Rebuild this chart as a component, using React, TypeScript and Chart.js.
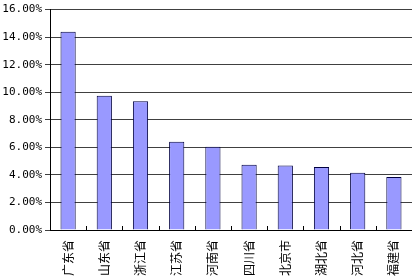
import React, { useEffect, useRef } from "react";
import { Chart, registerables } from "chart.js";

Chart.register(...registerables);

const categories = ["广东省", "山东省", "浙江省", "江苏省", "河南省", "四川省", "北京市", "湖北省", "河北省", "福建省"];
const shares = [14.4, 9.74, 9.35, 6.41, 6.05, 4.73, 4.69, 4.57, 4.16, 3.85];
const yTicks = [0, 2, 4, 6, 8, 10, 12, 14, 16];

const insideTicks = {
  id: "insideTicks",
  afterDatasetsDraw(chart: any) {
    const { ctx, chartArea, scales } = chart;
    const x = scales.x;
    const n = categories.length;
    ctx.save();
    ctx.strokeStyle = "#000";
    ctx.lineWidth = 1;
    for (let i = 1; i < n; i++) {
      const px = Math.round((x.getPixelForValue(i - 1) + x.getPixelForValue(i)) / 2) + 0.5;
      ctx.beginPath();
      ctx.moveTo(px, chartArea.bottom);
      ctx.lineTo(px, chartArea.bottom - 4);
      ctx.stroke();
    }
    ctx.restore();
  },
};

export default function App() {
  const ref = useRef<HTMLCanvasElement>(null);
  useEffect(() => {
    if (!ref.current) return;
    const chart = new Chart(ref.current, {
      type: "bar",
      data: {
        labels: categories,
        datasets: [
          {
            data: shares,
            backgroundColor: "#9999FF",
            borderColor: "#000040",
            borderWidth: 1,
            barPercentage: 0.42,
            categoryPercentage: 1,
          },
        ],
      },
      options: {
        animation: false,
        responsive: false,
        layout: { padding: { top: 0, right: 0, left: 0, bottom: 0 } },
        plugins: { legend: { display: false }, tooltip: { enabled: false } },
        scales: {
          x: {
            offset: true,
            grid: { display: false },
            border: { display: true, color: "#000", width: 1 },
            ticks: {
              color: "#000",
              font: { family: "'Noto Sans CJK SC'", size: 12 },
              minRotation: 90,
              maxRotation: 90,
              padding: 2,
            },
            afterFit(s: any) {
              s.height = 46;
            },
          },
          y: {
            min: 0,
            max: 16,
            afterBuildTicks(s: any) {
              s.ticks = yTicks.map((v) => ({ value: v }));
            },
            grid: { color: "#404040", tickLength: 5, drawTicks: true },
            border: { display: true, color: "#000", width: 1 },
            ticks: {
              color: "#000",
              font: { family: "'DejaVu Sans Mono'", size: 11 },
              padding: 3,
              callback: (v: any) => Number(v).toFixed(2) + "%",
            },
            afterFit(s: any) {
              s.width = 50;
            },
          },
        },
      },
      plugins: [insideTicks],
    });
    return () => chart.destroy();
  }, []);
  return (
    <div style={{ position: "fixed", left: 0, top: 0, width: 412, height: 276, background: "#fff" }}>
      <canvas ref={ref} width={412} height={276} style={{ width: 412, height: 276 }} />
    </div>
  );
}
